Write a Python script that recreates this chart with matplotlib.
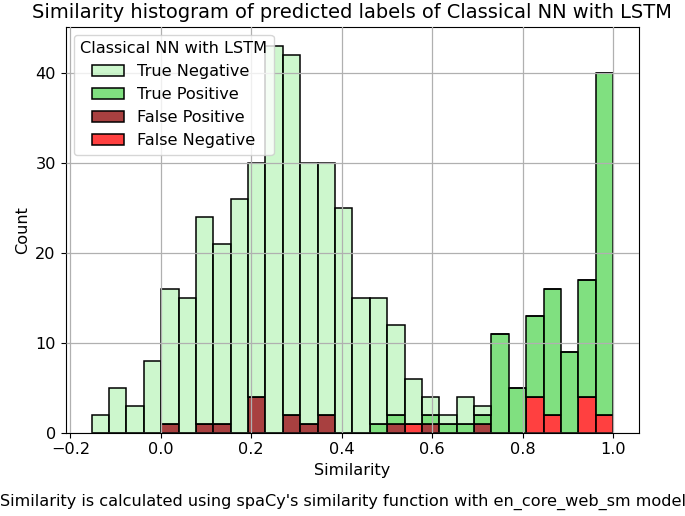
import numpy as np
import matplotlib
matplotlib.use("Agg")
import matplotlib.pyplot as plt

# Data (30 bins between -0.153 and 1.0)
sim_min, sim_max, n_bins = -0.153, 1.0, 30
true_negative = [2, 5, 3, 8, 15, 15, 23, 20, 26, 26, 43, 40, 29, 28, 25,
                 15, 14, 10, 5, 2, 1, 3, 1, 0, 0, 0, 0, 0, 0, 0]
true_positive = [0, 0, 0, 0, 0, 0, 0, 0, 0, 0, 0, 0, 0, 0, 0,
                 0, 1, 1, 0, 1, 1, 1, 1, 11, 5, 9, 14, 9, 13, 38]
false_positive = [0, 0, 0, 0, 1, 0, 1, 1, 0, 4, 0, 2, 1, 2, 0,
                  0, 0, 1, 0, 1, 0, 0, 1, 0, 0, 0, 0, 0, 0, 0]
false_negative = [0, 0, 0, 0, 0, 0, 0, 0, 0, 0, 0, 0, 0, 0, 0,
                  0, 0, 0, 1, 0, 0, 0, 0, 0, 0, 4, 2, 0, 4, 2]
labels = ["True Negative", "True Positive", "False Positive", "False Negative"]
colors = {"True Negative": (144/255, 238/255, 144/255, 0.45),
          "True Positive": (50/255, 205/255, 50/255, 0.62),
          "False Positive": (139/255, 0, 0, 0.75),
          "False Negative": (1, 0, 0, 0.75)}

plt.rcParams["font.size"] = 11.6

edges = np.linspace(sim_min, sim_max, n_bins + 1)
centers = (edges[:-1] + edges[1:]) / 2

fig = plt.figure(figsize=(6.85, 5.16), dpi=100)
ax = fig.add_axes([0.0957, 0.1615, 0.8375, 0.7868])

series = {"True Negative": true_negative, "True Positive": true_positive,
          "False Positive": false_positive, "False Negative": false_negative}
stack_order = ["False Negative", "False Positive", "True Positive", "True Negative"]
n, b, patches = ax.hist([centers] * 4, bins=edges,
                        weights=[series[k] for k in stack_order],
                        stacked=True, histtype="bar",
                        color=[colors[k] for k in stack_order],
                        edgecolor="black", linewidth=1.1,
                        label=stack_order)
ax.grid(True, color="#b0b0b0", linewidth=0.9)
ax.set_axisbelow(False)
ax.set_xticks([-0.2, 0.0, 0.2, 0.4, 0.6, 0.8, 1.0])
ax.set_yticks([0, 10, 20, 30, 40])
ax.set_xlabel("Similarity")
ax.set_ylabel("Count")
ax.set_title("Similarity histogram of predicted labels of Classical NN with LSTM")

handles = {lab: p[0] for lab, p in zip(stack_order, patches)}
ax.legend([handles[l] for l in labels], labels, title="Classical NN with LSTM",
          loc="upper left")
fig.text(0.5, 0.012, "Similarity is calculated using spaCy's similarity function with en_core_web_sm model",
         ha="center", va="bottom")
fig.savefig("out.png", dpi=100)
